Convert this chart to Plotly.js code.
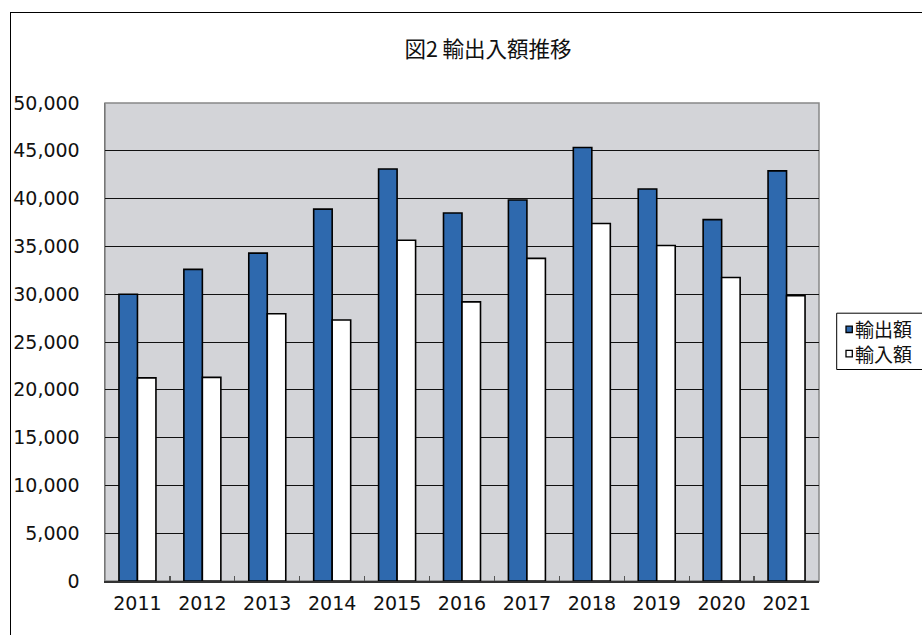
<!DOCTYPE html>
<html><head><meta charset="utf-8">
<script src="https://cdn.plot.ly/plotly-3.0.1.min.js"></script>
<style>
html,body{margin:0;padding:0;background:#fff;}
#wrap{position:relative;width:922px;height:635px;overflow:hidden;}
#chart{width:922px;height:635px;}
#frame{position:absolute;left:10px;top:12px;width:950px;height:700px;border:1px solid #000;pointer-events:none;}
</style></head>
<body><div id="wrap"><div id="chart"></div><div id="frame"></div></div>
<script>
const years = ['2011','2012','2013','2014','2015','2016','2017','2018','2019','2020','2021'];
const exportsVal = [30000, 32600, 34300, 38900, 43100, 38500, 39850, 45350, 41000, 37800, 42900];
const importsVal = [21250, 21300, 27950, 27300, 35650, 29200, 33750, 37400, 35100, 31750, 29850];
const seriesNames = ['輸出額', '輸入額'];
const seriesColors = ['#2e69ae', '#ffffff'];
const yTicks = [0,5000,10000,15000,20000,25000,30000,35000,40000,45000,50000];
const yTickText = ['0','5,000','10,000','15,000','20,000','25,000','30,000','35,000','40,000','45,000','50,000'];

const tickFont = {family:'DejaVu Sans, Verdana, sans-serif', size:19, color:'#111'};
const traces = [
  {type:'bar', name:seriesNames[0], x:years, y:exportsVal,
   marker:{color:seriesColors[0], line:{color:'#000', width:1.6}}},
  {type:'bar', name:seriesNames[1], x:years, y:importsVal,
   marker:{color:seriesColors[1], line:{color:'#000', width:1.6}}}
];

// custom legend (paper coordinates; plot area spans 105..819 x 103..581 px)
const L = 105, W = 714, B = 581, H = 478;
const px = x => (x - L) / W;
const py = y => (B - y) / H;
const legendShapes = [
  {type:'rect', xref:'paper', yref:'paper', x0:px(836.7), x1:px(935), y0:py(369.5), y1:py(313.2),
   fillcolor:'#fff', line:{color:'#000', width:1}, layer:'above'}
];
const rowY = [329.3, 353.6];
seriesNames.forEach((n, i) => {
  legendShapes.push({type:'rect', xref:'paper', yref:'paper', x0:px(846), x1:px(852.3),
    y0:py(rowY[i] + 3.2), y1:py(rowY[i] - 3.2), fillcolor:seriesColors[i],
    line:{color:'#000', width:1.3}, layer:'above'});
});
const legendAnn = [{text:seriesNames.join('<br>'), xref:'paper', yref:'paper', x:px(853.5),
  y:py((rowY[0] + rowY[1]) / 2), xanchor:'left', yanchor:'middle', align:'left',
  showarrow:false, borderpad:0, font:{family:'Noto Sans CJK JP, sans-serif', size:19, color:'#111'}}];

const layout = {
  width:922, height:635,
  margin:{l:105, r:103, t:103, b:54, pad:0, autoexpand:false},
  paper_bgcolor:'rgba(0,0,0,0)', plot_bgcolor:'#d3d4d8',
  barmode:'group', bargap:0.43, bargroupgap:0,
  showlegend:false,
  title:{text:'図2 輸出入額推移', font:{family:'Noto Sans CJK JP, sans-serif', size:21.5, color:'#111'},
         xref:'container', x:488/922, xanchor:'center', yref:'container', y:1-49/635, yanchor:'middle'},
  xaxis:{type:'category', tickfont:tickFont, showgrid:false, ticks:'inside', tickson:'boundaries', ticklen:5,
         tickwidth:1.3, tickcolor:'#555', showline:true, linecolor:'#333', linewidth:1.5,
         ticklabelstandoff:5},
  yaxis:{range:[0,50000], tickvals:yTicks, ticktext:yTickText, tickfont:tickFont,
         showgrid:true, gridcolor:'#111', gridwidth:1, zeroline:false,
         showline:true, linecolor:'#777', linewidth:1.5, ticks:'', ticklabelstandoff:20},
  shapes:[
    {type:'rect', xref:'paper', yref:'paper', x0:0, x1:1, y0:0, y1:1, line:{color:'#888', width:1.5}, layer:'below'}
  ].concat(legendShapes),
  annotations:legendAnn
};
Plotly.newPlot('chart', traces, layout, {displayModeBar:false, staticPlot:true});
</script></body></html>
